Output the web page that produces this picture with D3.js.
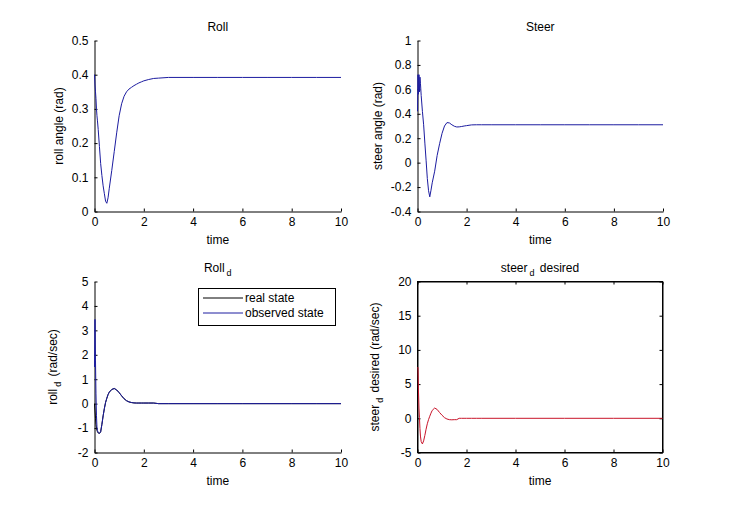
<!DOCTYPE html>
<html>
<head>
<meta charset="utf-8">
<script src="https://cdn.jsdelivr.net/npm/d3@7"></script>
<style>
  html, body { margin: 0; padding: 0; background: #fff; }
  svg { display: block; font-family: "Liberation Sans", Arial, sans-serif; }
</style>
</head>
<body>
<div id="chart"></div>
<script>
const width = 731;
const height = 508;

// simulation time (s), shared by every series
const time = [0, 0.02, 0.04, 0.06, 0.08, 0.1, 0.12, 0.15, 0.2, 0.25,
  0.3, 0.35, 0.4, 0.45, 0.5, 0.55, 0.6, 0.7, 0.8, 0.9,
  1.0, 1.1, 1.2, 1.3, 1.4, 1.5, 1.6, 1.7, 1.8, 1.9,
  2.0, 2.2, 2.4, 2.6, 3, 4, 5, 6, 7, 8, 9, 10];

const rollAngle = [0.40, 0.37, 0.35, 0.33, 0.30, 0.28, 0.265, 0.24, 0.19, 0.14,
  0.105, 0.075, 0.052, 0.03, 0.024, 0.04, 0.068, 0.12, 0.175, 0.23,
  0.28, 0.315, 0.337, 0.35, 0.358, 0.363, 0.368, 0.372, 0.376, 0.379,
  0.382, 0.386, 0.389, 0.39, 0.392, 0.392, 0.392, 0.392, 0.392, 0.392, 0.392, 0.392];

const steerAngle = [0.42, 0.72, 0.56, 0.72, 0.58, 0.70, 0.65, 0.55, 0.42, 0.31,
  0.16, 0.02, -0.13, -0.23, -0.28, -0.225, -0.165, -0.07, 0.058, 0.155,
  0.24, 0.30, 0.328, 0.325, 0.31, 0.298, 0.292, 0.293, 0.296, 0.30,
  0.303, 0.309, 0.31, 0.31, 0.31, 0.31, 0.31, 0.31, 0.31, 0.31, 0.31, 0.31];

const rollRateReal = [0, -0.3, -0.6, -0.85, -1.0, -1.1, -1.15, -1.2, -1.22, -1.15,
  -0.85, -0.5, -0.2, 0.05, 0.22, 0.37, 0.47, 0.58, 0.62, 0.56,
  0.45, 0.32, 0.2, 0.12, 0.07, 0.045, 0.03, 0.025, 0.025, 0.025,
  0.025, 0.025, 0.025, 0, 0, 0, 0, 0, 0, 0, 0, 0];

const rollRateObserved = [1.5, 3.45, 1.75, 0.4, -0.5, -0.95, -1.1, -1.18, -1.22, -1.15,
  -0.85, -0.5, -0.2, 0.05, 0.22, 0.37, 0.47, 0.58, 0.62, 0.56,
  0.45, 0.32, 0.2, 0.12, 0.07, 0.045, 0.03, 0.025, 0.025, 0.025,
  0.025, 0.025, 0.025, 0, 0, 0, 0, 0, 0, 0, 0, 0];

const steerRateDesired = [7.4, 7.45, 4.0, 1.5, 0.1, -1.5, -2.6, -3.4, -3.75, -3.3,
  -2.5, -1.6, -0.8, -0.2, 0.3, 0.75, 1.15, 1.5, 1.3, 0.85,
  0.45, 0.1, -0.1, -0.2, -0.22, -0.2, -0.2, 0, 0, 0,
  0, 0, 0, 0, 0, 0, 0, 0, 0, 0, 0, 0];

const timeTicks = [0, 2, 4, 6, 8, 10];
const rollTicks = [0, 0.1, 0.2, 0.3, 0.4, 0.5];
const steerTicks = [-0.4, -0.2, 0, 0.2, 0.4, 0.6, 0.8, 1];
const rollRateTicks = [-2, -1, 0, 1, 2, 3, 4, 5];
const steerRateTicks = [-5, 0, 5, 10, 15, 20];

const legendLabels = ['real state', 'observed state'];

const blue = '#1c1ca0';
const red = '#c8142a';
const fontSize = 12;

const svg = d3.select('#chart')
  .append('svg')
  .attr('width', width)
  .attr('height', height);

svg.append('rect').attr('width', width).attr('height', height).attr('fill', '#fff');

const fmt = d => String(+d.toFixed(2)).replace('\u2212', '-');

function drawPanel(p) {
  const x = d3.scaleLinear().domain([0, 10]).range([p.left, p.right]);
  const y = d3.scaleLinear().domain(p.yDomain).range([p.bottom, p.top]);
  const g = svg.append('g');

  // box (only the bottom-right panel has one)
  if (p.box) {
    g.append('rect')
      .attr('x', p.left).attr('y', p.top)
      .attr('width', p.right - p.left).attr('height', p.bottom - p.top)
      .attr('fill', 'none').attr('stroke', '#000');
  }

  const xAxis = d3.axisBottom(x).tickValues(timeTicks).tickFormat(fmt).tickSizeInner(-3).tickSizeOuter(0).tickPadding(5);
  const yAxis = d3.axisLeft(y).tickValues(p.yTicks).tickFormat(fmt).tickSizeInner(-3).tickSizeOuter(0).tickPadding(6);

  const gx = g.append('g').attr('transform', `translate(0,${p.bottom})`).call(xAxis);
  const gy = g.append('g').attr('transform', `translate(${p.left},0)`).call(yAxis);

  if (p.box) {
    g.append('g').attr('transform', `translate(0,${p.top})`)
      .call(d3.axisTop(x).tickValues(timeTicks).tickFormat('').tickSizeInner(-3).tickSizeOuter(0));
    g.append('g').attr('transform', `translate(${p.right},0)`)
      .call(d3.axisRight(y).tickValues(p.yTicks).tickFormat('').tickSizeInner(-3).tickSizeOuter(0));
  }

  g.selectAll('.domain').attr('stroke', '#000');
  g.selectAll('.tick line').attr('stroke', '#000');
  g.selectAll('.tick text')
    .attr('fill', '#000')
    .attr('font-size', fontSize)
    .attr('font-family', '"Liberation Sans", Arial, sans-serif');
  gx.selectAll('.tick text').attr('dy', '0.75em');

  const line = d3.line()
    .x((d, i) => x(time[i]))
    .y(d => y(d));

  p.series.forEach(s => {
    g.append('path')
      .datum(s.values)
      .attr('fill', 'none')
      .attr('stroke', s.color)
      .attr('stroke-width', 1)
      .attr('d', line);
  });

  const cx = (p.left + p.right) / 2;
  const cy = (p.top + p.bottom) / 2;

  // title
  const title = g.append('text')
    .attr('x', cx).attr('y', p.top - 10)
    .attr('text-anchor', 'middle')
    .attr('font-size', fontSize);
  addLabel(title, p.title);

  // x label
  g.append('text')
    .attr('x', cx).attr('y', p.bottom + 32)
    .attr('text-anchor', 'middle')
    .attr('font-size', fontSize)
    .text('time');

  // y label
  const yl = g.append('text')
    .attr('transform', `translate(${p.ylabelX},${cy}) rotate(-90)`)
    .attr('text-anchor', 'middle')
    .attr('font-size', fontSize);
  addLabel(yl, p.ylabel);

  return { x, y, g };
}

// label parts: [text, subscript, rest]
function addLabel(sel, parts) {
  sel.append('tspan').text(parts[0]);
  if (parts[1]) {
    sel.append('tspan').attr('dx', 2).attr('dy', 4).attr('font-size', 9).text(parts[1]);
    sel.append('tspan').attr('dx', 2).attr('dy', -4).text(parts[2] || '');
  }
}

drawPanel({
  left: 94.5, right: 341, top: 40.5, bottom: 211.5,
  yDomain: [0, 0.5], yTicks: rollTicks,
  title: ['Roll'], ylabel: ['roll angle (rad)'], ylabelX: 63,
  series: [{ values: rollAngle, color: blue }]
});

drawPanel({
  left: 417.5, right: 663, top: 40.5, bottom: 211.5,
  yDomain: [-0.4, 1], yTicks: steerTicks,
  title: ['Steer'], ylabel: ['steer angle (rad)'], ylabelX: 382,
  series: [{ values: steerAngle, color: blue }]
});

const bl = drawPanel({
  left: 94.5, right: 341, top: 281.5, bottom: 452.5,
  yDomain: [-2, 5], yTicks: rollRateTicks,
  title: ['Roll', 'd'], ylabel: ['roll', 'd', ' (rad/sec)'], ylabelX: 57,
  series: [{ values: rollRateReal, color: '#000' }, { values: rollRateObserved, color: blue }]
});

drawPanel({
  left: 417.5, right: 662.5, top: 281.5, bottom: 452.5, box: true,
  yDomain: [-5, 20], yTicks: steerRateTicks,
  title: ['steer', 'd', ' desired'], ylabel: ['steer', 'd', ' desired (rad/sec)'], ylabelX: 379,
  series: [{ values: steerRateDesired, color: red }]
});

// legend for the roll rate panel
const legend = bl.g.append('g');
legend.append('rect')
  .attr('x', 198.5).attr('y', 288.5)
  .attr('width', 137).attr('height', 37)
  .attr('fill', '#fff').attr('stroke', '#000');

const legendColors = ['#000', blue];
legendLabels.forEach((label, i) => {
  const ly = 298 + i * 15;
  legend.append('line')
    .attr('x1', 203).attr('x2', 243)
    .attr('y1', ly).attr('y2', ly)
    .attr('stroke', legendColors[i]);
  legend.append('text')
    .attr('x', 245).attr('y', ly + 4)
    .attr('font-size', fontSize)
    .text(label);
});
</script>
</body>
</html>
